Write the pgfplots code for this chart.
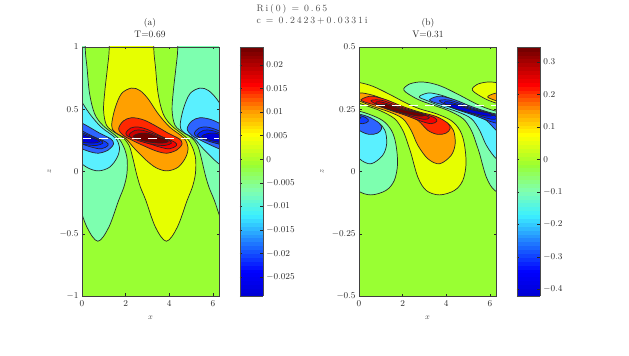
\documentclass[border=0pt]{standalone}
\usepackage{fontspec}
\usepackage{pgfplots}
\usepackage{pgfplotstable}
\pgfplotsset{compat=1.18}
\newfontfamily\headfont{Latin Modern Roman}[LetterSpace=20]

\definecolor{cGreen}{RGB}{153,255,51}
\definecolor{cYellow}{RGB}{230,255,0}
\definecolor{cOrange}{RGB}{255,160,0}
\definecolor{cRed}{RGB}{255,40,0}
\definecolor{cMid}{RGB}{245,0,0}
\definecolor{cRing}{RGB}{205,0,0}
\definecolor{cCore}{RGB}{112,0,0}
\definecolor{cAqua}{RGB}{125,255,175}
\definecolor{cCyan}{RGB}{90,240,255}
\definecolor{cBlue}{RGB}{45,100,255}
\definecolor{cBlueB}{RGB}{15,60,255}
\definecolor{cBlueC}{RGB}{0,30,250}
\definecolor{cNavy}{RGB}{0,0,215}

\pgfplotsset{
  colormap={barmap}{rgb255(0cm)=(0,0,210); rgb255(10cm)=(0,0,255); rgb255(32.5cm)=(60,240,255);
    rgb255(42.5cm)=(128,255,175); rgb255(52.6cm)=(153,255,51); rgb255(64.7cm)=(255,255,0);
    rgb255(74cm)=(255,160,0); rgb255(85cm)=(255,0,0); rgb255(100cm)=(110,0,0)},
  panel/.style={
    scale only axis, width=137bp, height=249bp, anchor=south west,
    xmin=0, xmax=6.283, xtick={0,2,4,6},
    axis on top, axis background/.style={fill=cGreen},
    tick align=inside, major tick length=2.5bp,
    tick style={black!85, line width=0.4pt},
    axis line style={black!70, line width=0.7pt},
    tick label style={font=\fontsize{9.5}{11}\selectfont, text=black!85},
    xticklabel style={yshift=-1.5bp},
    xlabel={$x$}, ylabel={$z$},
    xlabel style={yshift=-2.5bp}, ylabel style={yshift=1.5bp},
    label style={font=\fontsize{8}{10}\selectfont, text=black!70},
    colormap name=barmap, colorbar sampled, colorbar,
  },
  bar/.style={
    at={(1.153,1)}, anchor=north west, width=23bp, height=249bp, scale only axis,
    samples=65, tick align=inside, major tick length=2.5bp,
    ylabel={}, scaled y ticks=false,
    tick style={black!85, line width=0.4pt},
    axis line style={black!70, line width=0.7pt},
    tick label style={font=\fontsize{9.5}{11}\selectfont, text=black!85},
  },
}

% contour regions (x, z)
\pgfplotstableread{
x z
1.25 1.40
1.25 1.00
1.17 .839
1.05 .651
.99 .491
1.13 .370
1.55 .308
1.89 .271
2.16 .209
2.32 .115
2.50 -.019
2.68 -.126
2.93 -.233
3.37 -.448
3.87 -.560
4.37 -.448
4.82 -.233
5.06 -.126
5.20 -.019
5.21 .102
5.06 .196
4.79 .271
4.10 .370
3.72 .464
3.49 .625
3.37 .839
3.29 1.00
3.29 1.40
2.30 1.50
}\Lyellow
\pgfplotstableread{
x z
2.27 .670
1.81 .625
1.51 .504
1.36 .370
1.51 .316
2.01 .263
2.42 .182
2.96 .088
3.41 .029
3.90 .005
4.41 .035
4.76 .115
4.86 .196
4.66 .271
4.02 .357
3.49 .464
3.03 .584
2.65 .651
}\Lorange
\pgfplotstableread{
x z
2.27 .432
1.89 .405
1.68 .343
1.89 .290
2.23 .257
2.80 .209
3.41 .164
3.90 .147
4.36 .174
4.59 .223
4.45 .263
3.95 .308
3.34 .370
2.80 .416
}\Lred
\pgfplotstableread{
x z
2.01 .308
2.23 .349
2.58 .357
3.03 .335
3.64 .282
4.25 .236
4.33 .209
4.02 .182
3.57 .196
2.96 .231
2.42 .263
2.12 .282
}\Lmid
\pgfplotstableread{
x z
2.16 .295
2.42 .330
2.80 .330
3.34 .298
3.95 .255
4.10 .228
3.80 .209
3.26 .217
2.65 .244
2.27 .271
}\Lring
\pgfplotstableread{
x z
2.35 .282
2.58 .303
2.96 .308
3.41 .282
3.84 .255
3.95 .239
3.64 .228
3.11 .236
2.65 .255
}\Lcore

% contour regions
\pgfplotstableread{
x z
-1.08 .326
-.88 .349
-.43 .359
.03 .357
.64 .342
1.40 .310
2.16 .275
2.77 .252
3.54 .232
4.22 .205
4.63 .165
4.83 .111
4.91 .031
4.76 -.036
4.38 -.076
3.69 -.094
3.08 -.076
2.70 -.023
2.39 .071
2.24 .111
2.01 .165
1.63 .212
.95 .245
.18 .269
-.50 .292
}\Ryellow
\pgfplotstableread{
x z
-.38 .299
-.12 .312
.18 .315
.79 .302
1.55 .275
2.32 .248
3.23 .225
3.99 .198
4.33 .165
4.41 .111
4.22 .064
3.69 .031
3.16 .051
2.70 .105
2.39 .165
2.01 .212
1.40 .239
.64 .261
.03 .283
}\Rorange
\pgfplotstableread{
x z
.09 .288
.34 .299
.64 .302
1.25 .288
2.01 .261
2.77 .239
3.54 .221
4.07 .194
4.18 .172
3.99 .154
3.61 .149
3.16 .165
2.70 .205
2.09 .229
1.40 .248
.72 .267
.26 .279
}\Rred
\pgfplotstableread{
x z
.56 .282
.79 .288
1.17 .283
2.01 .256
2.93 .232
3.46 .216
3.57 .202
3.31 .192
2.85 .202
2.09 .227
1.25 .252
}\Rmid
\pgfplotstableread{
x z
.76 .275
1.02 .279
2.01 .252
2.93 .229
3.23 .216
2.93 .210
2.09 .231
1.25 .256
}\Rring
\pgfplotstableread{
x z
.91 .265
1.25 .269
2.01 .248
2.77 .235
3.00 .225
2.70 .223
2.01 .235
1.40 .249
}\Rcore

% one contour level: the positive lobe and its copies half a wavelength away
\newcommand{\level}[3]{%
  \foreach \sh/\col in {0/#2,6.283/#2,-3.1416/#3,3.1416/#3}{%
    \edef\tmp{\noexpand\addplot[smooth cycle, tension=0.55, fill=\col, draw=black!85, line width=0.7pt]
      table[x expr=\noexpand\thisrow{x}+\sh, y=z] {\noexpand#1};}\tmp
  }%
}

\begin{document}
\begin{tikzpicture}
\path[use as bounding box] (0,0) rectangle (629bp,356bp);

\begin{axis}[panel, at={(82bp,60bp)},
    ymin=-1, ymax=1, ytick={-1,-0.5,0,0.5,1},
    yticklabels={$-1$,$-0.5$,$0$,$0.5$,$1$},
    point meta min=-0.029, point meta max=0.0238,
    colorbar style={bar,
      ytick={-0.025,-0.02,-0.015,-0.01,-0.005,0,0.005,0.01,0.015,0.02},
      yticklabels={$-0.025$,$-0.02$,$-0.015$,$-0.01$,$-0.005$,$0$,$0.005$,$0.01$,$0.015$,$0.02$}},
  ]
  \level{\Lyellow}{cYellow}{cAqua}
  \level{\Lorange}{cOrange}{cCyan}
  \level{\Lred}{cRed}{cBlue}
  \level{\Lmid}{cMid}{cBlueB}
  \level{\Lring}{cRing}{cBlueC}
  \level{\Lcore}{cCore}{cNavy}
  \addplot[white, line width=1.3pt, dash pattern=on 9bp off 7.5bp] coordinates {(0,0.265) (6.283,0.265)};
\end{axis}

\begin{axis}[panel, at={(359bp,60bp)},
    ymin=-0.5, ymax=0.5, ytick={-0.5,-0.25,0,0.25,0.5},
    yticklabels={$-0.5$,$-0.25$,$0$,$0.25$,$0.5$},
    point meta min=-0.42, point meta max=0.346,
    colorbar style={bar,
      ytick={-0.4,-0.3,-0.2,-0.1,0,0.1,0.2,0.3},
      yticklabels={$-0.4$,$-0.3$,$-0.2$,$-0.1$,$0$,$0.1$,$0.2$,$0.3$}},
  ]
  \level{\Ryellow}{cYellow}{cAqua}
  \level{\Rorange}{cOrange}{cCyan}
  \level{\Rred}{cRed}{cBlue}
  \level{\Rmid}{cMid}{cBlueB}
  \level{\Rring}{cRing}{cBlueC}
  \level{\Rcore}{cCore}{cNavy}
  \addplot[white, line width=1.3pt, dash pattern=on 9bp off 7.5bp] coordinates {(0,0.265) (6.283,0.265)};
\end{axis}

% panel frames, redrawn over the filled regions
\draw[black!75, line width=0.8pt] (82bp,60bp) rectangle (219bp,309bp);
\draw[black!75, line width=0.8pt] (359bp,60bp) rectangle (496bp,309bp);

\node[font=\fontsize{9.5}{11}\selectfont, text=black!85] at (150bp,333bp) {(a)};
\node[font=\fontsize{9.5}{11}\selectfont, text=black!85] at (150bp,322bp) {T=0.69};
\node[font=\fontsize{9.5}{11}\selectfont, text=black!85] at (428bp,333bp) {(b)};
\node[font=\fontsize{9.5}{11}\selectfont, text=black!85] at (428bp,322bp) {V=0.31};
\node[font=\headfont\fontsize{9.5}{11}\selectfont, text=black!70, anchor=west] at (253bp,347bp) {Ri(0) = 0.65};
\node[font=\headfont\fontsize{9.5}{11}\selectfont, text=black!70, anchor=west] at (253bp,335bp) {c = 0.2423+0.0331i};
\end{tikzpicture}
\end{document}
